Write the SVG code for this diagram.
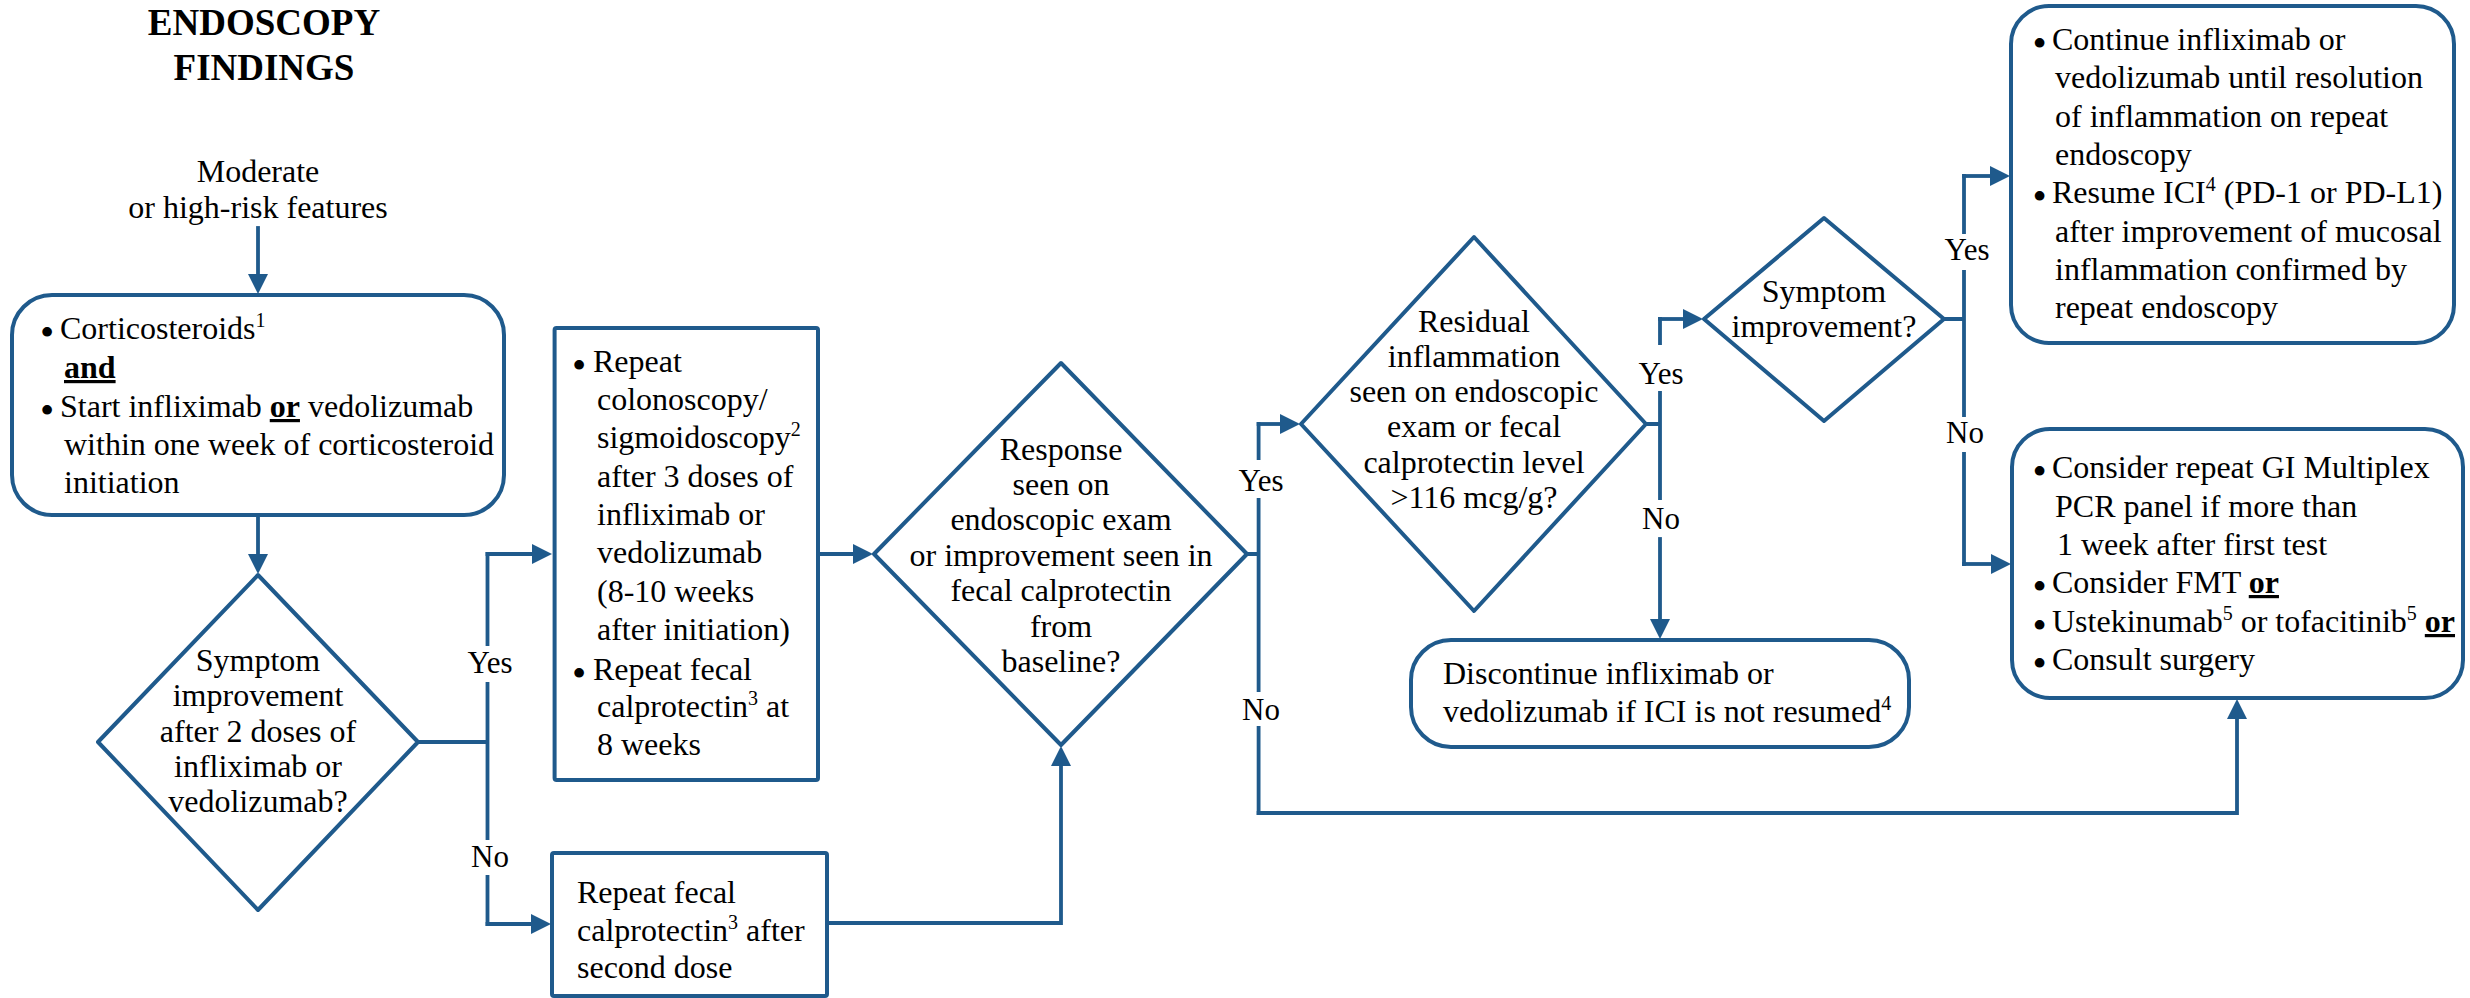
<svg xmlns="http://www.w3.org/2000/svg" width="2470" height="998" viewBox="0 0 2470 998">
<style>
text{font-family:"Liberation Serif","Times New Roman",serif;font-size:32px;fill:#000}
.title{font-size:37px;font-weight:bold;text-anchor:middle}
.c{text-anchor:middle}
.lab{font-size:31px;text-anchor:middle}
.b{font-weight:bold;text-decoration:underline}
.sup{font-size:20px}
.bul{font-size:32px;stroke:#000;stroke-width:2}
.shape{fill:#fff;stroke:#1f5a8c;stroke-width:4;stroke-linejoin:round}
.conn path{fill:none;stroke:#1f5a8c;stroke-width:3.8;stroke-linecap:square;stroke-linejoin:miter}
.conn path.ar{marker-end:url(#ah)}
</style>
<defs>
<marker id="ah" viewBox="0 0 20 20" refX="1" refY="10" markerWidth="20" markerHeight="20" markerUnits="userSpaceOnUse" orient="auto">
<path d="M0,0 L20,10 L0,20 z" fill="#1f5a8c"/>
</marker>
</defs>
<rect width="2470" height="998" fill="#fff"/>

<g id="title">
<text class="title" x="264" y="35">ENDOSCOPY</text>
<text class="title" x="264" y="80">FINDINGS</text>
</g>

<g id="n-entry">
<text class="c" x="258" y="182">Moderate</text>
<text class="c" x="258" y="218">or high-risk features</text>
</g>

<g id="conn" class="conn">
<path class="ar" d="M258,228 V275"/>
<path class="ar" d="M258,515 V555"/>
<path d="M418,742 H487.5 M487.5,554 V644 M487.5,684 V838 M487.5,877 V924"/>
<path class="ar" d="M487.5,554 H533"/>
<path class="ar" d="M487.5,924 H532"/>
<path class="ar" d="M818,554 H854"/>
<path class="ar" d="M827,923 H1061 V765"/>
<path d="M1247,554 H1258.6 M1258.6,424 V458 M1258.6,500 V690 M1258.6,728 V813"/>
<path class="ar" d="M1258.6,424 H1281"/>
<path class="ar" d="M1258.6,813 H2237 V718"/>
<path d="M1646,424 H1660 M1660,319 V343 M1660,393 V498"/>
<path class="ar" d="M1660,539 V620"/>
<path class="ar" d="M1660,319 H1684"/>
<path d="M1944,319 H1964 M1964,176 V232 M1964,272 V415 M1964,454 V564"/>
<path class="ar" d="M1964,176 H1991"/>
<path class="ar" d="M1964,564 H1992"/>
<text class="lab" x="490" y="673">Yes</text>
<text class="lab" x="490" y="867">No</text>
<text class="lab" x="1261" y="491">Yes</text>
<text class="lab" x="1261" y="720">No</text>
<text class="lab" x="1661" y="384">Yes</text>
<text class="lab" x="1661" y="529">No</text>
<text class="lab" x="1967" y="260">Yes</text>
<text class="lab" x="1965" y="443">No</text>
</g>

<g id="n-steroids">
<rect class="shape" x="12" y="295" width="492" height="220" rx="40"/>
<text class="bul" x="41.5" y="342.5">•</text>
<text x="60" y="339">Corticosteroids<tspan class="sup" dy="-12">1</tspan></text>
<text class="b" x="64" y="378">and</text>
<text class="bul" x="41.5" y="420.5">•</text>
<text x="60" y="417">Start infliximab <tspan class="b">or</tspan> vedolizumab</text>
<text x="64" y="455">within one week of corticosteroid</text>
<text x="64" y="493">initiation</text>
</g>

<g id="n-d1">
<polygon class="shape" points="258,575 418,742 258,910 98,742"/>
<text class="c" x="258" y="671">Symptom</text>
<text class="c" x="258" y="706">improvement</text>
<text class="c" x="258" y="742">after 2 doses of</text>
<text class="c" x="258" y="777">infliximab or</text>
<text class="c" x="258" y="812">vedolizumab?</text>
</g>

<g id="n-repeat-colo">
<rect class="shape" x="554.6" y="328" width="263.4" height="452" rx="2"/>
<text class="bul" x="573.5" y="375.5">•</text>
<text x="593" y="372">Repeat</text>
<text x="597" y="410">colonoscopy/</text>
<text x="597" y="448">sigmoidoscopy<tspan class="sup" dy="-12">2</tspan></text>
<text x="597" y="487">after 3 doses of</text>
<text x="597" y="525">infliximab or</text>
<text x="597" y="563">vedolizumab</text>
<text x="597" y="602">(8-10 weeks</text>
<text x="597" y="640">after initiation)</text>
<text class="bul" x="573.5" y="683.5">•</text>
<text x="593" y="680">Repeat fecal</text>
<text x="597" y="717">calprotectin<tspan class="sup" dy="-12">3</tspan><tspan dy="12"> at</tspan></text>
<text x="597" y="755">8 weeks</text>
</g>

<g id="n-repeat-fc">
<rect class="shape" x="552" y="853" width="275" height="143" rx="2"/>
<text x="577" y="903">Repeat fecal</text>
<text x="577" y="941">calprotectin<tspan class="sup" dy="-12">3</tspan><tspan dy="12"> after</tspan></text>
<text x="577" y="978">second dose</text>
</g>

<g id="n-d2">
<polygon class="shape" points="1061,363 1247,554 1061,745 874,554"/>
<text class="c" x="1061" y="460">Response</text>
<text class="c" x="1061" y="495">seen on</text>
<text class="c" x="1061" y="530">endoscopic exam</text>
<text class="c" x="1061" y="566">or improvement seen in</text>
<text class="c" x="1061" y="601">fecal calprotectin</text>
<text class="c" x="1061" y="637">from</text>
<text class="c" x="1061" y="672">baseline?</text>
</g>

<g id="n-d3">
<polygon class="shape" points="1474,237 1646,424 1474,611 1301,424"/>
<text class="c" x="1474" y="332">Residual</text>
<text class="c" x="1474" y="367">inflammation</text>
<text class="c" x="1474" y="402">seen on endoscopic</text>
<text class="c" x="1474" y="437">exam or fecal</text>
<text class="c" x="1474" y="473">calprotectin level</text>
<text class="c" x="1474" y="508">&gt;116 mcg/g?</text>
</g>

<g id="n-discontinue">
<rect class="shape" x="1411" y="640" width="498" height="107" rx="40"/>
<text x="1443" y="684">Discontinue infliximab or</text>
<text x="1443" y="722">vedolizumab if ICI is not resumed<tspan class="sup" dy="-12">4</tspan></text>
</g>

<g id="n-d4">
<polygon class="shape" points="1824,218 1944,319 1824,421 1704,319"/>
<text class="c" x="1824" y="302">Symptom</text>
<text class="c" x="1824" y="337">improvement?</text>
</g>

<g id="n-continue">
<rect class="shape" x="2011" y="6" width="443" height="337" rx="38"/>
<text class="bul" x="2034" y="53.5">•</text>
<text x="2052" y="50">Continue infliximab or</text>
<text x="2055" y="88">vedolizumab until resolution</text>
<text x="2055" y="127">of inflammation on repeat</text>
<text x="2055" y="165">endoscopy</text>
<text class="bul" x="2034" y="206.5">•</text>
<text x="2052" y="203">Resume ICI<tspan class="sup" dy="-12">4</tspan><tspan dy="12"> (PD-1 or PD-L1)</tspan></text>
<text x="2055" y="242">after improvement of mucosal</text>
<text x="2055" y="280">inflammation confirmed by</text>
<text x="2055" y="318">repeat endoscopy</text>
</g>

<g id="n-consider">
<rect class="shape" x="2012" y="429" width="451" height="269" rx="38"/>
<text class="bul" x="2034" y="481.5">•</text>
<text x="2052" y="478">Consider repeat GI Multiplex</text>
<text x="2055" y="517">PCR panel if more than</text>
<text x="2057" y="555">1 week after first test</text>
<text class="bul" x="2034" y="596.5">•</text>
<text x="2052" y="593">Consider FMT <tspan class="b">or</tspan></text>
<text class="bul" x="2034" y="635.5">•</text>
<text x="2052" y="632">Ustekinumab<tspan class="sup" dy="-12">5</tspan><tspan dy="12"> or tofacitinib</tspan><tspan class="sup" dy="-12">5</tspan><tspan dy="12"> </tspan><tspan class="b">or</tspan></text>
<text class="bul" x="2034" y="673.5">•</text>
<text x="2052" y="670">Consult surgery</text>
</g>
</svg>
